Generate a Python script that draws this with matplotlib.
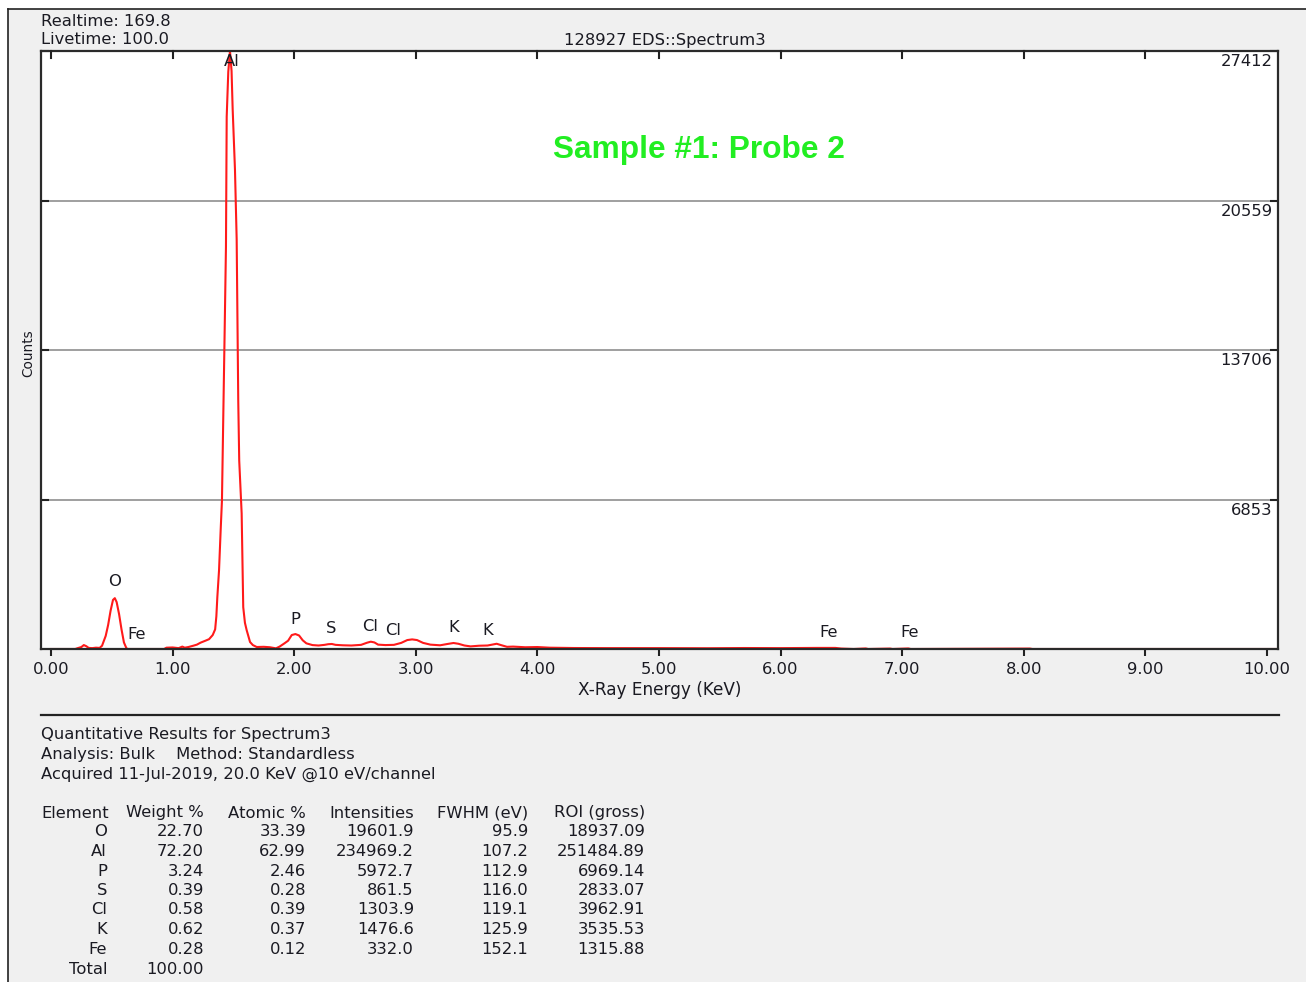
import numpy as np
import matplotlib
matplotlib.use('Agg')
import matplotlib.pyplot as plt
from matplotlib.lines import Line2D
from matplotlib.patches import Rectangle

# spectrum (keV, counts)
energy = [0.00, 0.20, 0.22, 0.25, 0.27, 0.29, 0.31, 0.34, 0.37, 0.40, 0.42, 0.45, 0.47, 0.49,
          0.51, 0.525, 0.54, 0.56, 0.58, 0.60, 0.62, 0.63, 0.93, 0.95, 1.00, 1.05, 1.08, 1.10,
          1.13, 1.17, 1.20, 1.23, 1.27, 1.30, 1.33, 1.35, 1.36, 1.368, 1.382, 1.396, 1.406,
          1.417, 1.428, 1.439, 1.445, 1.458, 1.472, 1.485, 1.494, 1.513, 1.527, 1.540, 1.548,
          1.568, 1.581, 1.595, 1.609, 1.637, 1.66, 1.692, 1.75, 1.80, 1.85, 1.88, 1.92, 1.95,
          1.98, 2.01, 2.04, 2.07, 2.10, 2.15, 2.20, 2.25, 2.28, 2.31, 2.34, 2.40, 2.47, 2.55,
          2.60, 2.63, 2.66, 2.69, 2.75, 2.82, 2.88, 2.93, 2.97, 3.01, 3.06, 3.12, 3.20, 3.26,
          3.31, 3.35, 3.40, 3.45, 3.52, 3.59, 3.665, 3.70, 3.75, 3.80, 3.90, 4.00, 4.10, 4.30,
          4.60, 5.00, 5.40, 5.70, 6.00, 6.30, 6.45, 6.50, 6.60, 6.70, 6.72, 6.90, 6.92, 7.05,
          7.07, 8.05, 8.07, 10.10]
counts = [0, 0, 40, 90, 180, 130, 50, 40, 60, 50, 150, 600, 1100, 1750,
          2250, 2330, 2150, 1600, 900, 300, 40, 0, 0, 60, 70, 40, 110, 60,
          90, 150, 200, 290, 380, 450, 640, 900, 1500, 2376, 3610, 5528, 6808,
          10690, 14500, 18460, 24400, 26455, 27412, 26500, 24760, 21980, 18780, 11380, 8635,
          6214, 1919, 1200, 868, 320, 180, 91, 100, 80, 30, 110, 260, 380,
          640, 685, 620, 400, 260, 180, 160, 190, 220, 230, 190, 170, 160, 190,
          290, 335, 300, 200, 180, 190, 280, 410, 440, 410, 280, 200, 170, 230,
          275, 240, 160, 120, 150, 160, 240, 180, 100, 110, 80, 90, 60, 45,
          40, 40, 35, 45, 40, 50, 50, 20, 0, 25, 0, 20, 0, 25,
          0, 20, 0, 0]

peak_names = ['O', 'Fe', 'Al', 'P', 'S', 'Cl', 'Cl', 'K', 'K', 'Fe', 'Fe']
peak_energy = [0.525, 0.705, 1.487, 2.013, 2.307, 2.621, 2.815, 3.312, 3.589, 6.398, 7.057]
label_height = [3107, 685, 26912, 1371, 960, 1051, 868, 1005, 868, 777, 777]

y_ticks = [6853, 13706, 20559, 27412]
x_ticks = [0, 1, 2, 3, 4, 5, 6, 7, 8, 9, 10]

table_cols = ['Element', 'Weight %', 'Atomic %', 'Intensities', 'FWHM (eV)', 'ROI (gross)']
elements = ['O', 'Al', 'P', 'S', 'Cl', 'K', 'Fe']
weight_pct = ['22.70', '72.20', '3.24', '0.39', '0.58', '0.62', '0.28']
atomic_pct = ['33.39', '62.99', '2.46', '0.28', '0.39', '0.37', '0.12']
intensities = ['19601.9', '234969.2', '5972.7', '861.5', '1303.9', '1476.6', '332.0']
fwhm = ['95.9', '107.2', '112.9', '116.0', '119.1', '125.9', '152.1']
roi_gross = ['18937.09', '251484.89', '6969.14', '2833.07', '3962.91', '3535.53', '1315.88']
weight_total = '100.00'

W, H = 1306, 982
def fx(x):
    return x / W
def fy(y):
    return 1 - y / H

plt.rcParams['font.family'] = 'DejaVu Sans'
txt = '#1a1a22'

fig = plt.figure(figsize=(W / 100, H / 100), dpi=100, facecolor='white')
fig.add_artist(Rectangle((fx(8), 0), 1 - fx(8), fy(9), transform=fig.transFigure,
                         facecolor='#f0f0f0', edgecolor='none', zorder=0))
fig.add_artist(Line2D([fx(8), 1], [fy(9), fy(9)], transform=fig.transFigure, color='#222222', lw=1.2))
fig.add_artist(Line2D([fx(8), fx(8)], [0, fy(9)], transform=fig.transFigure, color='#222222', lw=1.2))

ax = fig.add_axes([fx(41), fy(649), fx(1278) - fx(41), fy(51) - fy(649)])
ax.set_facecolor('white')
ax.plot(energy, counts, color='#ff1a1a', lw=1.5, zorder=2)
ax.set_xlim(-0.082, 10.09)
ax.set_ylim(0, 27412)

for v in y_ticks[:-1]:
    ax.axhline(v, color='#858585', lw=1.1, zorder=1)
ax.set_yticks(y_ticks)
ax.tick_params(axis='y', direction='in', length=6, width=1.5, color='#222222',
               left=True, right=True, labelleft=False)
for v in y_ticks:
    ax.annotate(str(v), xy=(1, v), xycoords=('axes fraction', 'data'), xytext=(-4, -2.5),
                textcoords='offset points', ha='right', va='top', fontsize=11.8, color=txt)

ax.set_xticks(x_ticks)
ax.set_xticklabels(['%.2f' % t for t in x_ticks], fontsize=11.8, color=txt)
ax.tick_params(axis='x', direction='out', length=5, width=1.5, color='#222222', pad=4)
# inward marks along the top edge (none at the last one, where the label sits)
for t in x_ticks[:-1]:
    ax.plot([t, t], [27412, 27412 * 0.988], color='#222222', lw=1.5, clip_on=False, zorder=3)

for s in ax.spines.values():
    s.set_color('#2a2a2a')
    s.set_linewidth(1.6)

for name, e, h in zip(peak_names, peak_energy, label_height):
    ax.text(e, h, name, ha='center', va='center', fontsize=11.8, color=txt)

ax.text(0.532, 0.834, 'Sample #1: Probe 2', transform=ax.transAxes, ha='center', va='center',
        fontsize=22.8, fontweight='bold', color='#22ee22', family='Liberation Sans')

fig.text(fx(28), fy(353), 'Counts', rotation=90, ha='center', va='center', fontsize=9.8, color=txt)
fig.text(fx(660), fy(690), 'X-Ray Energy (KeV)', ha='center', va='center', fontsize=12.2, color=txt)

fig.text(fx(41), fy(21), 'Realtime: 169.8', ha='left', va='center', fontsize=11.8, color=txt)
fig.text(fx(41), fy(40), 'Livetime: 100.0', ha='left', va='center', fontsize=11.8, color=txt)
fig.text(fx(665), fy(40), '128927 EDS::Spectrum3', ha='center', va='center', fontsize=11.8, color=txt)

fig.add_artist(Line2D([fx(41), fx(1279)], [fy(715), fy(715)], transform=fig.transFigure,
                      color='#222222', lw=1.6))

fs = 11.8
fig.text(fx(41), fy(735), 'Quantitative Results for Spectrum3', va='center', fontsize=fs, color=txt)
fig.text(fx(41), fy(754), 'Analysis: Bulk    Method: Standardless', va='center', fontsize=fs, color=txt)
fig.text(fx(41), fy(774), 'Acquired 11-Jul-2019, 20.0 KeV @10 eV/channel', va='center', fontsize=fs, color=txt)

col_right = [107, 204, 306, 414, 528, 645]
fig.text(fx(41), fy(813), table_cols[0], va='center', ha='left', fontsize=fs, color=txt)
for c, r in zip(table_cols[1:], col_right[1:]):
    fig.text(fx(r), fy(813), c, va='center', ha='right', fontsize=fs, color=txt)

columns = [elements, weight_pct, atomic_pct, intensities, fwhm, roi_gross]
for i in range(len(elements)):
    y = 832 + i * 19.5
    for col, r in zip(columns, col_right):
        fig.text(fx(r), fy(y), col[i], va='center', ha='right', fontsize=fs, color=txt)
fig.text(fx(col_right[0]), fy(969), 'Total', va='center', ha='right', fontsize=fs, color=txt)
fig.text(fx(col_right[1]), fy(969), weight_total, va='center', ha='right', fontsize=fs, color=txt)

fig.savefig('out.png', dpi=100, facecolor=fig.get_facecolor())
